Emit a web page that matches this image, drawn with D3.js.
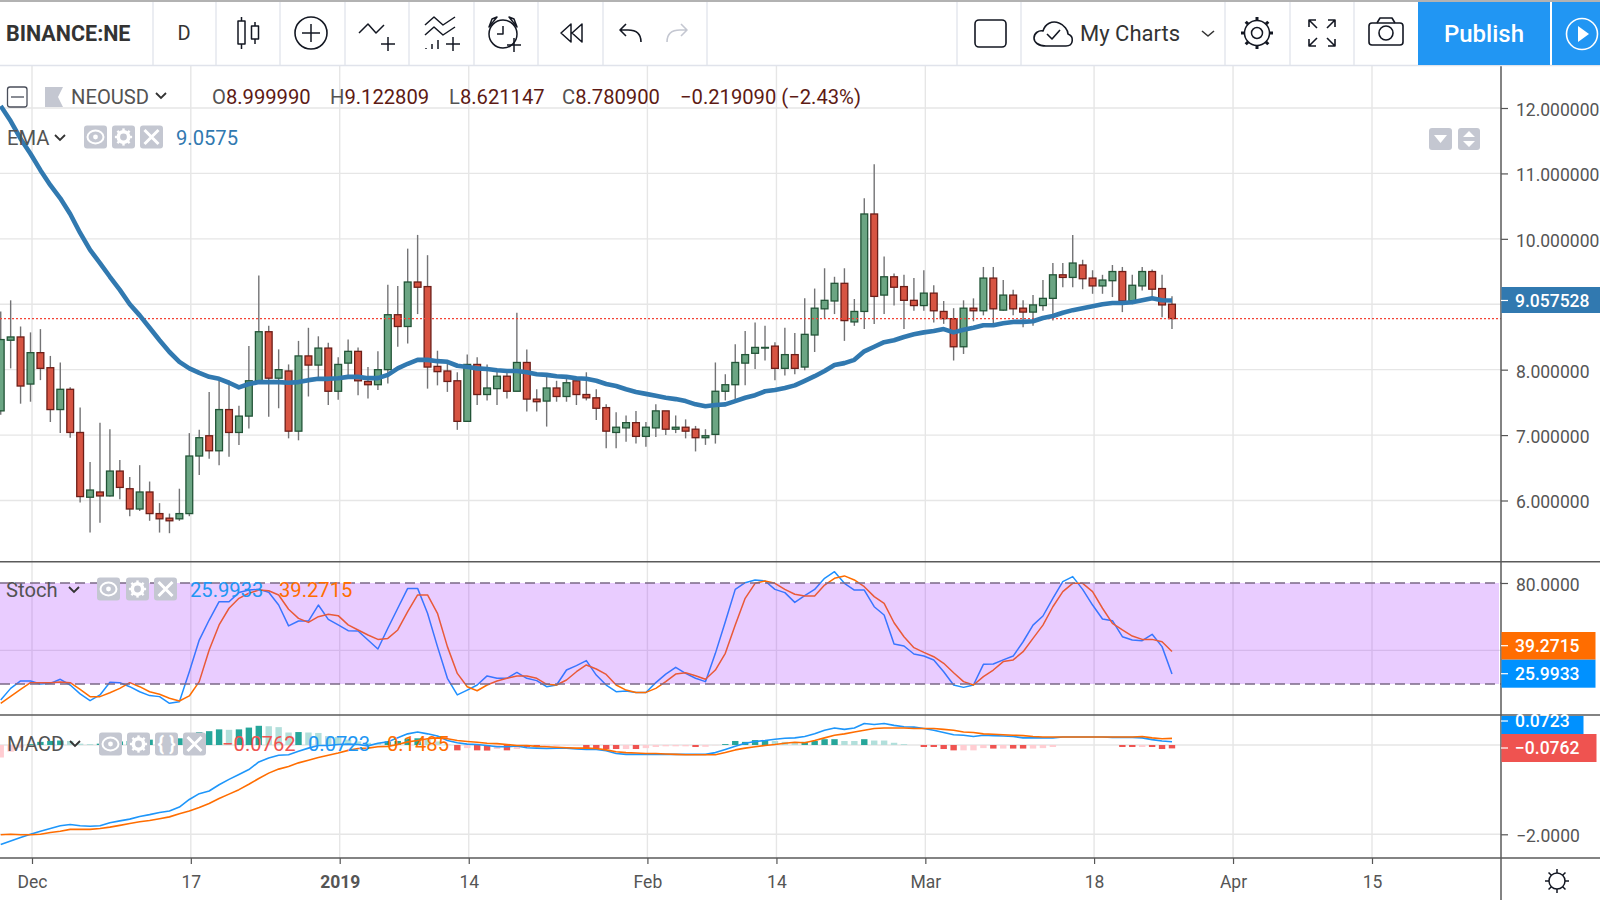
<!DOCTYPE html>
<html>
<head>
<meta charset="utf-8">
<title>NEOUSD</title>
<script src="https://cdn.jsdelivr.net/npm/d3@7"></script>
<style>
body { margin: 0; background: #fff; }
text { font-family: Roboto, sans-serif; }
</style>
</head>
<body>
<svg id="chart" width="1600" height="900"></svg>
<script>
// daily candles, open high low close, first row is Nov 28 2018
var ohlc = [
[7.37,8.89,7.31,8.46],[8.45,9.06,8.02,8.50],[8.50,8.66,7.48,7.75],[7.78,8.57,7.51,8.26],[8.26,8.62,7.84,8.02],
[8.03,8.21,7.20,7.39],[7.39,8.11,7.03,7.70],[7.70,7.73,6.96,7.04],[7.04,7.42,5.97,6.06],[6.05,6.59,5.51,6.16],
[6.13,7.19,5.66,6.07],[6.07,7.09,6.06,6.45],[6.45,6.62,6.02,6.20],[6.18,6.36,5.76,5.87],[5.87,6.54,5.84,6.13],
[6.13,6.29,5.69,5.80],[5.80,5.96,5.51,5.72],[5.73,5.80,5.50,5.69],[5.72,6.18,5.69,5.80],[5.80,7.03,5.76,6.68],
[6.68,7.08,6.39,6.96],[6.99,7.66,6.64,6.76],[6.76,7.83,6.54,7.39],[7.39,7.83,6.67,7.04],[7.04,7.45,6.85,7.29],
[7.29,8.36,7.10,7.83],[7.83,9.44,7.82,8.58],[8.58,8.67,7.28,7.87],[7.87,8.31,7.41,8.00],[7.98,8.08,6.95,7.06],
[7.06,8.44,6.92,8.21],[8.21,8.64,7.59,8.07],[8.07,8.51,7.83,8.33],[8.33,8.41,7.46,7.67],[7.67,8.19,7.54,8.08],
[8.10,8.46,7.87,8.28],[8.28,8.34,7.61,7.83],[7.82,8.04,7.56,7.77],[7.77,8.28,7.69,8.00],[8.00,9.30,7.79,8.84],
[8.84,9.28,8.35,8.66],[8.66,9.85,8.40,9.34],[9.34,10.06,8.85,9.26],[9.27,9.75,7.71,8.04],[8.05,8.29,7.76,7.97],
[7.98,8.13,7.66,7.82],[7.83,7.96,7.08,7.21],[7.21,8.23,7.21,8.08],[8.08,8.19,7.46,7.62],[7.62,8.08,7.53,7.72],
[7.71,7.97,7.46,7.90],[7.90,7.97,7.56,7.67],[7.67,8.87,7.67,8.11],[8.11,8.31,7.36,7.55],[7.55,7.70,7.36,7.51],
[7.52,7.93,7.13,7.72],[7.72,7.83,7.51,7.59],[7.59,7.88,7.51,7.80],[7.83,7.85,7.46,7.62],[7.62,7.96,7.53,7.57],
[7.57,7.70,7.23,7.41],[7.42,7.47,6.80,7.06],[7.04,7.35,6.80,7.12],[7.11,7.30,6.90,7.19],[7.19,7.37,6.87,6.98],
[6.98,7.20,6.82,7.12],[7.11,7.47,6.97,7.37],[7.37,7.37,7.00,7.09],[7.09,7.30,7.03,7.12],[7.12,7.24,6.95,7.06],
[7.09,7.14,6.75,6.96],[6.96,7.09,6.85,6.99],[7.01,8.11,6.87,7.67],[7.67,7.93,7.53,7.77],[7.77,8.39,7.53,8.11],
[8.10,8.59,7.76,8.23],[8.25,8.72,8.01,8.34],[8.33,8.67,8.14,8.34],[8.36,8.42,7.84,8.02],[8.02,8.64,7.91,8.23],
[8.23,8.56,7.93,8.02],[8.04,9.09,7.99,8.54],[8.53,9.24,8.27,8.94],[8.93,9.55,8.78,9.06],[9.05,9.42,8.85,9.32],
[9.32,9.55,8.44,8.75],[8.73,9.08,8.67,8.89],[8.89,10.62,8.62,10.38],[10.38,11.14,8.70,9.12],[9.14,9.73,8.85,9.42],
[9.42,9.47,8.98,9.26],[9.27,9.45,8.62,9.06],[9.06,9.40,8.90,8.98],[8.98,9.52,8.90,9.17],[9.17,9.29,8.72,8.90],
[8.89,9.05,8.70,8.78],[8.78,8.94,8.14,8.35],[8.35,9.06,8.24,8.94],[8.94,9.09,8.74,8.90],[8.90,9.57,8.83,9.40],
[9.40,9.57,8.67,8.93],[8.91,9.37,8.90,9.14],[9.14,9.22,8.83,8.93],[8.94,9.06,8.65,8.88],[8.88,9.14,8.67,8.99],
[8.98,9.37,8.90,9.09],[9.09,9.63,8.75,9.45],[9.45,9.63,9.26,9.41],[9.41,10.06,9.26,9.63],[9.60,9.68,9.23,9.39],
[9.40,9.52,9.16,9.28],[9.28,9.45,9.16,9.37],[9.36,9.60,9.11,9.50],[9.50,9.57,8.88,9.05],[9.05,9.45,9.00,9.29],
[9.28,9.57,9.21,9.50],[9.50,9.53,9.08,9.23],[9.24,9.45,8.80,8.99],[8.99999,9.122809,8.621147,8.7809]
];

var ema = [12.03,11.80,11.53,11.30,11.05,10.82,10.62,10.38,10.09,9.83,9.63,9.42,9.22,9.00,8.83,8.64,8.45,8.27,8.12,8.02,
7.95,7.89,7.86,7.80,7.73,7.78,7.81,7.81,7.81,7.80,7.81,7.84,7.86,7.86,7.87,7.89,7.89,7.87,7.87,7.92,
8.02,8.09,8.15,8.15,8.13,8.12,8.06,8.04,8.02,8.01,7.99,7.98,7.98,7.96,7.93,7.92,7.90,7.89,7.87,7.86,
7.83,7.78,7.75,7.70,7.66,7.63,7.60,7.57,7.55,7.52,7.47,7.44,7.46,7.47,7.52,7.57,7.61,7.67,7.69,7.72,
7.76,7.83,7.90,7.98,8.07,8.10,8.15,8.28,8.35,8.42,8.45,8.50,8.54,8.57,8.59,8.62,8.57,8.61,8.64,8.68,
8.68,8.71,8.73,8.73,8.74,8.79,8.82,8.87,8.91,8.94,8.97,9.00,9.02,9.02,9.03,9.06,9.09,9.06,9.0575];

var stochK = [10.5,17.4,21.8,21.8,20.0,20.4,22.8,19.4,14.1,10.1,13.5,21.0,20.8,18.4,15.4,13.1,12.5,8.5,9.5,27.3,
46.1,58.0,68.9,68.9,74.3,75.8,76.2,74.5,66.9,54.5,57.4,57.4,66.9,58.4,55.1,51.7,51.5,46.1,40.8,53.1,
65.0,76.8,76.8,62.0,42.2,23.4,13.5,16.4,19.4,24.8,23.4,23.4,26.9,23.4,22,18.4,19.4,28.3,30.9,33.9,
25.3,19.4,15.4,15.8,15,15,20.8,25.9,29.9,26.3,23.4,21.4,38.2,57,76.2,80.2,81.8,81.2,76.2,74.3,
68.5,72.5,76.2,82.8,86.7,79.8,75.8,75.8,65.9,61,43.8,42.6,37.8,36.6,34.3,27.3,19.4,18,19.4,31.7,
31.9,34.3,36.6,45.1,55,60.4,70.9,80.8,83.8,76.2,66.9,58.6,57.6,48.1,46.1,45.7,49.5,42.2,25.9933];

var stochD = [8.5,12.7,16.8,20.8,20.8,20.8,21.2,20.8,16.8,12.5,12.5,14.8,17.4,20.8,18.4,15.4,13.9,11.5,9.9,12.9,
21.4,40.2,55.1,65,70.9,73.9,75.8,75.4,72.9,64.4,59,56.6,60,61.4,60.6,55.1,52.1,49.1,46.5,47.1,
52.1,63,72.9,72.9,62,42.2,26.3,18.4,16,19.4,21.8,23.4,24.8,24.8,23.4,19.8,19.4,22.4,27.3,31.3,
28.9,25.7,19.4,16.4,15,15,17.4,21.4,25.9,26.7,24.9,22.8,28.3,38.2,55,70.9,79.8,81.2,79.8,76.2,
73.3,72.3,72.3,78.8,82.8,84.2,81.8,77.8,71.9,67.9,56.4,48.1,41.6,38.8,36.2,32.3,26.7,21.4,19.4,24.4,
28.3,33.3,34.3,39.2,47.1,55,65.9,74.9,79.8,79.8,74.9,65,56,52.1,48.5,46.5,46.5,45.1,39.2715];

var macd = [-2.23,-2.15,-2.07,-2.00,-1.93,-1.87,-1.81,-1.78,-1.81,-1.82,-1.81,-1.74,-1.70,-1.66,-1.60,-1.56,-1.51,-1.48,-1.39,-1.22,
-1.09,-1.03,-0.89,-0.77,-0.66,-0.55,-0.38,-0.29,-0.23,-0.22,-0.14,-0.07,-0.01,-0.01,0.01,0.02,0.01,-0.02,0.04,0.07,
0.16,0.25,0.29,0.25,0.20,0.10,0.05,0.02,0.01,-0.01,-0.04,-0.04,-0.02,-0.06,-0.07,-0.08,-0.07,-0.07,-0.09,-0.10,
-0.10,-0.13,-0.19,-0.21,-0.21,-0.21,-0.21,-0.21,-0.21,-0.21,-0.21,-0.21,-0.17,-0.10,-0.03,0.04,0.08,0.10,0.13,0.15,
0.16,0.19,0.25,0.33,0.38,0.35,0.38,0.48,0.46,0.48,0.44,0.41,0.40,0.37,0.33,0.28,0.23,0.22,0.19,0.22,
0.21,0.20,0.19,0.16,0.16,0.16,0.16,0.18,0.18,0.18,0.18,0.18,0.17,0.17,0.17,0.16,0.12,0.09,0.0723];

var signal = [-2.01,-2.00,-2.01,-2.01,-2.00,-1.96,-1.93,-1.89,-1.89,-1.89,-1.87,-1.84,-1.80,-1.76,-1.72,-1.69,-1.65,-1.61,-1.54,-1.48,
-1.40,-1.31,-1.20,-1.10,-1.00,-0.88,-0.75,-0.63,-0.54,-0.48,-0.40,-0.34,-0.28,-0.23,-0.18,-0.12,-0.08,-0.07,-0.04,-0.03,
0.01,0.07,0.10,0.14,0.16,0.14,0.10,0.08,0.06,0.04,0.03,0.01,-0.01,-0.01,-0.03,-0.04,-0.05,-0.06,-0.07,-0.07,
-0.08,-0.11,-0.15,-0.17,-0.18,-0.19,-0.19,-0.20,-0.21,-0.22,-0.22,-0.22,-0.22,-0.17,-0.11,-0.07,-0.04,-0.01,0.01,0.04,
0.06,0.05,0.10,0.16,0.22,0.25,0.29,0.33,0.37,0.38,0.38,0.38,0.37,0.37,0.37,0.35,0.33,0.29,0.28,0.25,
0.24,0.23,0.22,0.21,0.19,0.18,0.18,0.18,0.18,0.18,0.18,0.18,0.18,0.18,0.18,0.19,0.16,0.14,0.1485];

var hist = [-0.28,-0.15,-0.06,0.02,0.07,0.09,0.10,0.09,0.03,0.02,0.03,0.05,0.08,0.09,0.11,0.12,0.14,0.13,0.15,0.22,
0.29,0.31,0.35,0.34,0.35,0.39,0.43,0.42,0.40,0.28,0.29,0.28,0.27,0.20,0.18,0.12,0.08,0.05,0.04,0.08,
0.09,0.14,0.15,0.12,0.08,0.01,-0.12,-0.07,-0.12,-0.125,-0.09,-0.12,-0.09,-0.045,-0.045,-0.03,-0.02,-0.01,-0.01,-0.07,
-0.07,-0.09,-0.09,-0.09,-0.09,-0.07,-0.045,-0.03,-0.03,-0.03,-0.045,-0.04,-0.005,0.02,0.09,0.07,0.11,0.11,0.09,0.07,
0.06,0.07,0.09,0.13,0.13,0.09,0.09,0.13,0.10,0.10,0.05,0.02,0,-0.045,-0.045,-0.09,-0.12,-0.12,-0.12,-0.07,
-0.08,-0.08,-0.08,-0.08,-0.08,-0.07,-0.045,0,0,0,0,0,0,-0.045,-0.045,-0.045,-0.045,-0.09,-0.0762];

// 1 = solid histogram colour, 0 = the pale one
var histSolid = "00011110001111111011"
    + "11101110001000000001"
    + "11100010110101100001"
    + "11101000001001111100"
    + "01111001000001111000"
    + "1011000000000110111";

var upFill = "#6ba583", upLine = "#225437", downFill = "#d75442", downLine = "#6d1e18", wick = "#737375";
var blue = "#2196f3", orange = "#ff6d00", emaBlue = "#3179b0", gridColor = "#e6e6e6", axisColor = "#555";

var svg = d3.select("#chart");

var axisX = 1501;
var start = new Date(Date.UTC(2018, 10, 28));

function dayOf(i) {
    return d3.utcDay.offset(start, i);
}

// grid lines sit on the days, the candles are a little to the left of them
var x = d3.scaleUtc()
    .domain([new Date(Date.UTC(2018, 11, 1)), new Date(Date.UTC(2019, 3, 15))])
    .range([32, 1372]);
function cx(i) {
    return x(dayOf(i)) - 1.5;
}

var yPrice = d3.scaleLinear().domain([6, 12]).range([500.5, 108]);
var yStoch = d3.scaleLinear().domain([20, 80]).range([684, 583]);
var yMacd = d3.scaleLinear().domain([-2, 0]).range([834.3, 745]);

var timeTicks = [
    [new Date(Date.UTC(2018, 11, 1)), "Dec"],
    [new Date(Date.UTC(2018, 11, 17)), "17"],
    [new Date(Date.UTC(2019, 0, 1)), "2019"],
    [new Date(Date.UTC(2019, 0, 14)), "14"],
    [new Date(Date.UTC(2019, 1, 1)), "Feb"],
    [new Date(Date.UTC(2019, 1, 14)), "14"],
    [new Date(Date.UTC(2019, 2, 1)), "Mar"],
    [new Date(Date.UTC(2019, 2, 18)), "18"],
    [new Date(Date.UTC(2019, 3, 1)), "Apr"],
    [new Date(Date.UTC(2019, 3, 15)), "15"]
];

// clip areas for the panes
var defs = svg.append("defs");
function addClip(id, top, bottom) {
    defs.append("clipPath").attr("id", id).append("rect")
        .attr("x", 0).attr("y", top).attr("width", axisX).attr("height", bottom - top);
}
addClip("clipPrice", 66, 561);
addClip("clipStoch", 562, 714);
addClip("clipMacd", 716, 857);

// grid
var grid = svg.append("g");
grid.selectAll(".vgrid").data(timeTicks).enter().append("line")
    .attr("x1", d => x(d[0])).attr("x2", d => x(d[0]))
    .attr("y1", 66).attr("y2", 858)
    .attr("stroke", gridColor).attr("stroke-width", 1.4);

function hgrid(values, scale) {
    grid.selectAll(null).data(values).enter().append("line")
        .attr("x1", 0).attr("x2", axisX)
        .attr("y1", d => scale(d)).attr("y2", d => scale(d))
        .attr("stroke", gridColor).attr("stroke-width", 1.4);
}
hgrid([6, 7, 8, 9, 10, 11, 12], yPrice);
hgrid([40], yStoch);
hgrid([-2, 0], yMacd);

// candles
var pricePane = svg.append("g").attr("clip-path", "url(#clipPrice)");
var candles = pricePane.selectAll(".candle").data(ohlc).enter().append("g");

candles.append("line")
    .attr("x1", (d, i) => cx(i)).attr("x2", (d, i) => cx(i))
    .attr("y1", d => yPrice(d[1])).attr("y2", d => yPrice(d[2]))
    .attr("stroke", wick).attr("stroke-width", 1.4);

candles.append("rect")
    .attr("x", (d, i) => cx(i) - 3.4)
    .attr("width", 6.8)
    .attr("y", d => yPrice(Math.max(d[0], d[3])))
    .attr("height", d => Math.max(yPrice(Math.min(d[0], d[3])) - yPrice(Math.max(d[0], d[3])), 0.5))
    .attr("fill", d => d[3] >= d[0] ? upFill : downFill)
    .attr("stroke", d => d[3] >= d[0] ? upLine : downLine)
    .attr("stroke-width", 1.3);

// last price line
pricePane.append("line")
    .attr("x1", 0).attr("x2", axisX)
    .attr("y1", yPrice(8.7809)).attr("y2", yPrice(8.7809))
    .attr("stroke", "#f44336").attr("stroke-width", 1.2).attr("stroke-dasharray", "2 2");

function drawLine(group, values, scale, color, width) {
    var line = d3.line()
        .x((d, i) => cx(i))
        .y(d => scale(d));
    group.append("path").datum(values)
        .attr("d", line)
        .attr("fill", "none")
        .attr("stroke", color)
        .attr("stroke-width", width)
        .attr("stroke-linejoin", "round");
}
drawLine(pricePane, ema, yPrice, emaBlue, 4.6);

// stochastic pane
var stochPane = svg.append("g").attr("clip-path", "url(#clipStoch)");
drawLine(stochPane, stochK, yStoch, "#1e90ff", 1.5);
drawLine(stochPane, stochD, yStoch, orange, 1.5);
stochPane.append("rect")
    .attr("x", 0).attr("width", 1499)
    .attr("y", yStoch(80)).attr("height", yStoch(20) - yStoch(80))
    .attr("fill", "#9915ff").attr("fill-opacity", 0.22);
stochPane.selectAll(null).data([80, 20]).enter().append("line")
    .attr("x1", 0).attr("x2", axisX)
    .attr("y1", d => yStoch(d)).attr("y2", d => yStoch(d))
    .attr("stroke", "#7b6a86").attr("stroke-width", 1.4).attr("stroke-dasharray", "10 5");

// macd pane
var macdPane = svg.append("g").attr("clip-path", "url(#clipMacd)");
macdPane.selectAll(".bar").data(hist).enter().append("rect")
    .attr("x", (d, i) => cx(i) - 3.2)
    .attr("width", 6.4)
    .attr("y", d => Math.min(yMacd(d), yMacd(0)))
    .attr("height", d => Math.abs(yMacd(d) - yMacd(0)))
    .attr("fill", (d, i) => {
        var solid = histSolid[i] === "1";
        if (d >= 0) return solid ? "#26a69a" : "#b2dfdb";
        return solid ? "#ef5350" : "#ffcdd2";
    });
drawLine(macdPane, macd, yMacd, "#1e96fa", 1.6);
drawLine(macdPane, signal, yMacd, orange, 1.6);

// price scale on the right and the time scale
function styleAxis(g) {
    g.select(".domain").remove();
    g.selectAll("line").attr("stroke", axisColor).attr("stroke-width", 1.2);
    g.selectAll("text").attr("fill", axisColor).style("font-size", "17.5px");
}
function nudge(g) {
    g.selectAll("text").attr("dy", "0.42em");
}
// the 9 tick is under the EMA label, so it has no text of its own
svg.append("g").attr("transform", "translate(" + axisX + ",0)")
    .call(d3.axisRight(yPrice).tickValues([6, 7, 8, 10, 11, 12]).tickSize(7).tickPadding(8).tickFormat(d3.format(".6f")))
    .call(styleAxis).call(nudge);
svg.append("g").attr("transform", "translate(" + axisX + ",0)")
    .call(d3.axisRight(yStoch).tickValues([80]).tickSize(7).tickPadding(8).tickFormat(d3.format(".4f")))
    .call(styleAxis).call(nudge);
svg.append("g").attr("transform", "translate(" + axisX + ",0)")
    .call(d3.axisRight(yMacd).tickValues([-2]).tickSize(7).tickPadding(8).tickFormat(d3.format(".4f")))
    .call(styleAxis).call(nudge);

var timeAxis = d3.axisBottom(x)
    .tickValues(timeTicks.map(d => d[0]))
    .tickSize(6).tickPadding(12)
    .tickFormat((d, i) => timeTicks[i][1]);
svg.append("g").attr("transform", "translate(0,858)")
    .call(timeAxis)
    .call(styleAxis)
    .selectAll("text")
    .style("font-weight", d => d.getUTCFullYear() === 2019 && d.getUTCMonth() === 0 && d.getUTCDate() === 1 ? "bold" : "normal");

// pane borders
var borders = svg.append("g").attr("stroke", "#5a5a5a").attr("stroke-width", 1.5);
[561.7, 715, 858].forEach(y => {
    borders.append("line").attr("x1", 0).attr("x2", 1600).attr("y1", y).attr("y2", y);
});
borders.append("line").attr("x1", axisX).attr("x2", axisX).attr("y1", 66).attr("y2", 900);

// value labels on the scale
function valueLabel(top, bottom, right, color, label, textY) {
    svg.append("rect").attr("x", axisX + 0.5).attr("y", top)
        .attr("width", right - axisX).attr("height", bottom - top).attr("fill", color);
    svg.append("line").attr("x1", axisX).attr("x2", axisX + 7).attr("y1", textY).attr("y2", textY)
        .attr("stroke", "#fff").attr("stroke-width", 1.2);
    svg.append("text").attr("x", 1515).attr("y", textY).attr("dy", "0.36em")
        .attr("fill", "#fff").style("font-size", "17.5px").style("font-weight", 500).text(label);
}
valueLabel(287, 313, 1600, emaBlue, "9.057528", yPrice(9.0575));
valueLabel(632, 659.7, 1595, orange, "39.2715", 645.7);
valueLabel(659.7, 687.7, 1595, "#0091ff", "25.9933", 673.7);
valueLabel(716, 734, 1583, "#0091ff", "0.0723", 721);
valueLabel(734, 762, 1596, "#ef5350", "\u22120.0762", 748);

// legend texts
function label(px, py, str, color, size, weight) {
    return svg.append("text").attr("x", px).attr("y", py).attr("dy", "0.36em")
        .attr("fill", color).style("font-size", (size || 20.2) + "px").style("font-weight", weight || 400).text(str);
}
function chevron(px, py, color) {
    svg.append("path").attr("d", "M" + (px - 5) + "," + (py - 3) + "L" + px + "," + (py + 2) + "L" + (px + 5) + "," + (py - 3))
        .attr("fill", "none").attr("stroke", color || "#333").attr("stroke-width", 1.8);
}
function button(px, py, kind) {
    var g = svg.append("g").attr("transform", "translate(" + px + "," + py + ")");
    g.append("rect").attr("x", -11.5).attr("y", -11.5).attr("width", 23).attr("height", 23).attr("rx", 3).attr("fill", "#c4c7d1");
    if (kind === "eye") {
        g.append("ellipse").attr("rx", 8).attr("ry", 6.5).attr("fill", "none").attr("stroke", "#fff").attr("stroke-width", 2);
        g.append("circle").attr("r", 2.4).attr("fill", "#fff");
    } else if (kind === "gear") {
        g.append("circle").attr("r", 5.2).attr("fill", "none").attr("stroke", "#fff").attr("stroke-width", 3.6);
        d3.range(8).forEach(k => {
            var a = k * Math.PI / 4;
            g.append("line").attr("x1", 6 * Math.cos(a)).attr("y1", 6 * Math.sin(a))
                .attr("x2", 8.6 * Math.cos(a)).attr("y2", 8.6 * Math.sin(a))
                .attr("stroke", "#fff").attr("stroke-width", 2.4);
        });
    } else if (kind === "x") {
        g.append("path").attr("d", "M-7,-7L7,7M7,-7L-7,7").attr("stroke", "#fff").attr("stroke-width", 3);
    } else if (kind === "code") {
        g.append("text").attr("text-anchor", "middle").attr("dy", "0.36em").attr("fill", "#fff")
            .style("font-size", "20px").style("font-weight", "bold").text("{ }");
    }
}

// symbol row
svg.append("rect").attr("x", 7.5).attr("y", 87).attr("width", 19.5).attr("height", 20).attr("rx", 2.5)
    .attr("fill", "#fff").attr("stroke", "#4a4e5a").attr("stroke-width", 1.3);
svg.append("line").attr("x1", 11).attr("x2", 24).attr("y1", 97).attr("y2", 97).attr("stroke", "#4a4e5a").attr("stroke-width", 1.3);
svg.append("path").attr("d", "M45,87H63L58,97L63,107H45Z").attr("fill", "#c4c7d1");
label(71, 97, "NEOUSD", "#535353");
chevron(161, 96);
var ohlcLabels = [[212, "O", "8.999990"], [330, "H", "9.122809"], [449, "L", "8.621147"], [562, "C", "8.780900"]];
ohlcLabels.forEach(d => {
    var t = label(d[0], 97, d[1], "#535353");
    t.append("tspan").attr("fill", "#5d1a14").text(d[2]);
});
label(680, 97, "\u22120.219090 (\u22122.43%)", "#5d1a14");

label(7, 138, "EMA", "#535353");
chevron(60, 138);
button(95.5, 137, "eye");
button(123.5, 137, "gear");
button(151.5, 137, "x");
label(176, 138, "9.0575", emaBlue);

// small buttons on the top right of the pane
svg.append("rect").attr("x", 1429).attr("y", 128).attr("width", 23).attr("height", 22).attr("rx", 3).attr("fill", "#c4c7d1");
svg.append("path").attr("d", "M1434,135H1447L1440.5,143Z").attr("fill", "#fff");
svg.append("rect").attr("x", 1458).attr("y", 128).attr("width", 22).attr("height", 22).attr("rx", 3).attr("fill", "#c4c7d1");
svg.append("path").attr("d", "M1463,137H1475L1469,131ZM1463,141H1475L1469,147Z").attr("fill", "#fff");

// stoch legend
label(6, 590, "Stoch", "#535353");
chevron(74, 590);
button(108.5, 589, "eye");
button(137.5, 589, "gear");
button(165.5, 589, "x");
label(190, 590, "25.9933", blue);
label(279, 590, "39.2715", orange);

// macd legend
label(7, 744, "MACD", "#535353");
chevron(75, 744);
button(110.5, 744, "eye");
button(138.5, 744, "gear");
button(166.5, 744, "code");
button(194.5, 744, "x");
label(222, 744, "\u22120.0762", "#ef5350");
label(308, 744, "0.0723", blue);
label(387, 744, "0.1485", orange);

// settings icon under the price scale
var sun = svg.append("g").attr("transform", "translate(1557,881)").attr("stroke", "#131722").attr("fill", "none").attr("stroke-width", 1.5);
sun.append("circle").attr("r", 8);
d3.range(8).forEach(k => {
    var a = k * Math.PI / 4;
    sun.append("line").attr("x1", 8 * Math.cos(a)).attr("y1", 8 * Math.sin(a))
        .attr("x2", 12 * Math.cos(a)).attr("y2", 12 * Math.sin(a));
});

// toolbar
var bar = svg.append("g");
bar.append("rect").attr("width", 1600).attr("height", 65).attr("fill", "#fff");
bar.append("rect").attr("width", 1600).attr("height", 2).attr("fill", "#b2b2b2");
bar.append("line").attr("x1", 0).attr("x2", 1600).attr("y1", 65.5).attr("y2", 65.5).attr("stroke", "#e0e3eb").attr("stroke-width", 1.5);
[153, 216, 280, 345, 409, 474, 538, 603, 707, 957, 1021, 1225, 1290, 1354].forEach(px => {
    bar.append("line").attr("x1", px).attr("x2", px).attr("y1", 2).attr("y2", 65).attr("stroke", "#e0e3eb").attr("stroke-width", 1.3);
});

bar.append("text").attr("x", 6).attr("y", 33).attr("dy", "0.36em")
    .attr("fill", "#333").style("font-size", "21.5px").style("font-weight", "bold").text("BINANCE:NE");
bar.append("text").attr("x", 184).attr("y", 33).attr("dy", "0.36em").attr("text-anchor", "middle")
    .attr("fill", "#333").style("font-size", "20px").text("D");

// toolbar icons
function icon(d, width, color) {
    bar.append("path").attr("d", d).attr("fill", "none").attr("stroke", color || "#131722").attr("stroke-width", width || 1.5)
        .attr("stroke-linejoin", "round");
}
icon("M241.5,17V21M241.5,44V49M238,21H245V44H238ZM255,22V26M255,39V44M251.5,26H258.5V39H251.5Z");
bar.append("circle").attr("cx", 311).attr("cy", 33).attr("r", 16).attr("fill", "none").attr("stroke", "#131722").attr("stroke-width", 1.6);
icon("M311,24V42M302,33H320");
icon("M359,33L368,24L376,33L384,25M388,37V51M381,44H395");
icon("M425,25L434,17L443,25L455,17M425,35L434,27L443,35L455,27M453,37V51M446,44H460M426,48V49M432,44V49M438,40V49");
bar.append("circle").attr("cx", 503).attr("cy", 34).attr("r", 14).attr("fill", "none").attr("stroke", "#131722").attr("stroke-width", 1.5);
icon("M492,19L497,17L489,27ZM514,19L509,17L517,27ZM503,26V34H497M514,38V52M507,45H521");
icon("M571,24L561,33L571,42ZM582,24L572,33L582,42Z");
icon("M641,42C641,34,636,30,628,30H620M626,24L620,30L626,36", 1.6);
icon("M667,42C667,34,672,30,680,30H687M681,24L687,30L681,36", 1.6, "#c4c7d1");
bar.append("rect").attr("x", 975).attr("y", 20).attr("width", 31).attr("height", 27).attr("rx", 4)
    .attr("fill", "none").attr("stroke", "#131722").attr("stroke-width", 1.6);
icon("M1043,46H1046C1038,46,1034,42,1034,38C1034,33,1039,30,1043,31C1045,24,1052,20,1059,23C1064,25,1068,30,1068,34C1074,36,1074,46,1066,46H1043M1047,34L1052,39L1060,30", 1.6);
bar.append("text").attr("x", 1080).attr("y", 33).attr("dy", "0.36em").attr("fill", "#333").style("font-size", "22px").text("My Charts");
icon("M1202,31L1208,36L1214,31", 1.6, "#333");
bar.append("circle").attr("cx", 1257).attr("cy", 33).attr("r", 5.5).attr("fill", "none").attr("stroke", "#131722").attr("stroke-width", 1.5);
bar.append("circle").attr("cx", 1257).attr("cy", 33).attr("r", 12.5).attr("fill", "none").attr("stroke", "#131722").attr("stroke-width", 1.5);
d3.range(8).forEach(k => {
    var a = k * Math.PI / 4;
    bar.append("line").attr("x1", 1257 + 12.5 * Math.cos(a)).attr("y1", 33 + 12.5 * Math.sin(a))
        .attr("x2", 1257 + 16 * Math.cos(a)).attr("y2", 33 + 16 * Math.sin(a))
        .attr("stroke", "#131722").attr("stroke-width", 3);
});
icon("M1309,27V20H1316M1309,20L1317,28M1335,27V20H1328M1335,20L1327,28M1309,39V46H1316M1309,46L1317,38M1335,39V46H1328M1335,46L1327,38", 1.6);
bar.append("rect").attr("x", 1369).attr("y", 23).attr("width", 34).attr("height", 22).attr("rx", 3).attr("fill", "none").attr("stroke", "#131722").attr("stroke-width", 1.6);
bar.append("circle").attr("cx", 1386).attr("cy", 33).attr("r", 7).attr("fill", "none").attr("stroke", "#131722").attr("stroke-width", 1.6);
icon("M1377,23L1380,18H1392L1395,23", 1.6);

bar.append("rect").attr("x", 1418).attr("y", 2).attr("width", 132).attr("height", 63).attr("fill", "#2196f3");
bar.append("rect").attr("x", 1552).attr("y", 2).attr("width", 48).attr("height", 63).attr("fill", "#2196f3");
bar.append("text").attr("x", 1484).attr("y", 33).attr("dy", "0.36em").attr("text-anchor", "middle")
    .attr("fill", "#fff").style("font-size", "24px").style("font-weight", 500).text("Publish");
bar.append("circle").attr("cx", 1582).attr("cy", 34).attr("r", 15.5).attr("fill", "none").attr("stroke", "#fff").attr("stroke-width", 1.6);
bar.append("path").attr("d", "M1578,26L1589,34L1578,42Z").attr("fill", "#fff");
</script>
</body>
</html>
